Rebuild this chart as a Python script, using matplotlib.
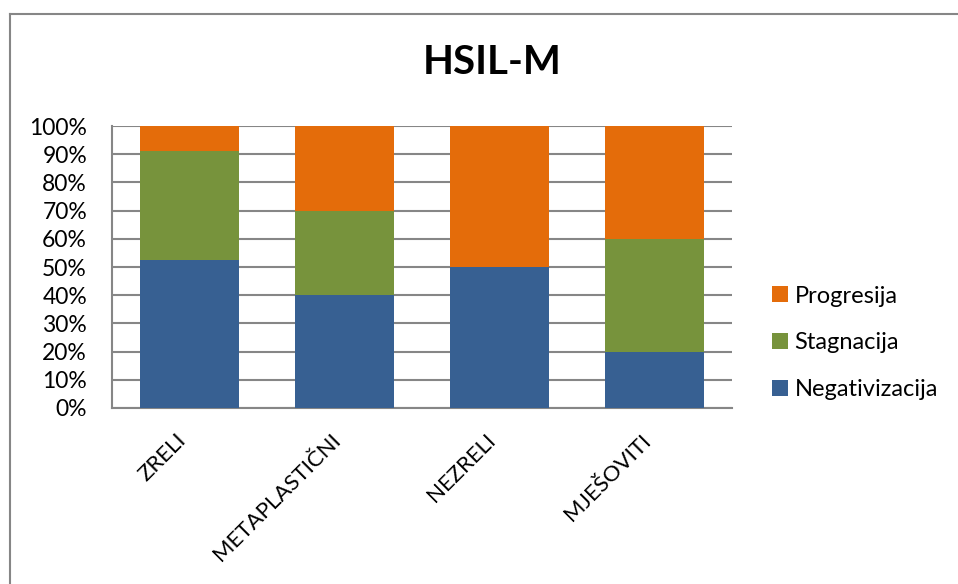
import numpy as np
import matplotlib.pyplot as plt
from matplotlib.lines import Line2D
from matplotlib.ticker import PercentFormatter

plt.rcParams['font.family'] = ['Lato', 'DejaVu Sans']

# Data (shares in %)
categories = ['ZRELI', 'METAPLASTIČNI', 'NEZRELI', 'MJEŠOVITI']
negativizacija = [52.5, 40, 50, 20]
stagnacija = [38.5, 30, 0, 40]
progresija = [9.0, 30, 50, 40]

COLORS = {
    'neg': '#376092',
    'stag': '#77933C',
    'prog': '#E46C0A',
}
GRID = '#868686'

fig = plt.figure(figsize=(9.58, 5.84), dpi=100)
ax = fig.add_axes([112 / 958, 176 / 584, 620 / 958, 282 / 584])

x = np.arange(len(categories))
w = 0.645
neg = np.array(negativizacija)
stag = np.array(stagnacija)
prog = np.array(progresija)

ax.bar(x, neg, w, color=COLORS['neg'], label='Negativizacija', zorder=3)
ax.bar(x, stag, w, bottom=neg, color=COLORS['stag'], label='Stagnacija', zorder=3)
ax.bar(x, prog, w, bottom=neg + stag, color=COLORS['prog'], label='Progresija', zorder=3)

ax.set_xlim(-0.5, len(categories) - 0.5)
ax.set_ylim(0, 100)
ax.set_yticks(np.arange(0, 101, 10))
ax.yaxis.set_major_formatter(PercentFormatter(decimals=0))
ax.yaxis.grid(True, color=GRID, linewidth=1.5, zorder=0)
ax.set_axisbelow(True)

for side in ['top', 'right']:
    ax.spines[side].set_visible(False)
for side in ['left', 'bottom']:
    ax.spines[side].set_color(GRID)
    ax.spines[side].set_linewidth(1.5)

ax.tick_params(axis='y', length=0, pad=18, labelsize=16.5)
ax.tick_params(axis='x', length=0, pad=16)
ax.set_xticks(x)
ax.set_xticklabels(categories, rotation=45, ha='right', va='top', fontsize=16)

fig.text(492 / 958, 1 - 63 / 584, 'HSIL-M', ha='center', va='center',
         fontsize=29, fontweight='bold')

handles, labels = ax.get_legend_handles_labels()
ax.legend(handles[::-1], labels[::-1], loc='center left',
          bbox_to_anchor=(763 / 958, 1 - 343 / 584), bbox_transform=fig.transFigure,
          frameon=False, fontsize=17, handlelength=0.64, handleheight=0.64,
          handletextpad=0.3, labelspacing=1.1, borderaxespad=0)

# chart area border (only top and left edges visible)
fig.add_artist(Line2D([10 / 958, 10 / 958], [0, 1 - 14 / 584], color=GRID, linewidth=1.5,
                      transform=fig.transFigure))
fig.add_artist(Line2D([10 / 958, 1], [1 - 14 / 584, 1 - 14 / 584], color=GRID, linewidth=1.5,
                      transform=fig.transFigure))

fig.savefig('out.png', dpi=100, facecolor='white')
